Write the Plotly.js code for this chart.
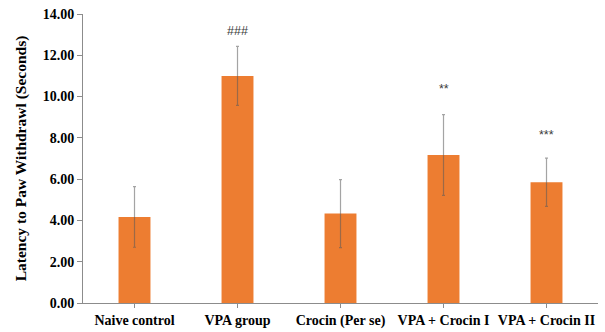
<!DOCTYPE html>
<html><head><meta charset="utf-8">
<script src="https://cdn.plot.ly/plotly-3.0.1.min.js"></script>
<style>body{margin:0;}#chart{width:605px;height:332px;}</style>
</head><body><div id="chart"></div>
<script>
var categories = ["Naive control", "VPA group", "Crocin (Per se)", "VPA + Crocin I", "VPA + Crocin II"];
var latency = [4.17, 11.0, 4.33, 7.17, 5.85];
var errors = [1.47, 1.43, 1.65, 1.96, 1.17];
var marks = ["", "###", "", "**", "***"];
var markY = [null, 13.2, null, 10.35, 8.15];
var yTicks = [0, 2, 4, 6, 8, 10, 12, 14];

var annotations = [];
for (var i = 0; i < categories.length; i++) {
  if (marks[i]) {
    annotations.push({x: categories[i], y: markY[i], text: marks[i], showarrow: false,
      font: {family: "Liberation Sans, Arial", size: 12.5, color: "#3a3a3a"}});
  }
}

var trace = {
  type: "bar", x: categories, y: latency, width: 0.31,
  marker: {color: "#ED7D31"},
  error_y: {type: "data", array: errors, visible: true, color: "rgba(90,90,90,0.55)", thickness: 1.2, width: 1.5}
};

var layout = {
  width: 605, height: 332,
  margin: {l: 83, r: 7, t: 14, b: 29},
  paper_bgcolor: "#fff", plot_bgcolor: "#fff",
  showlegend: false,
  font: {family: "Liberation Serif, Times New Roman, serif", color: "#000"},
  xaxis: {
    showline: true, linecolor: "#8c8c8c", linewidth: 1,
    ticks: "outside", ticklen: 4, tickcolor: "#8c8c8c",
    tickfont: {family: "Liberation Serif, Times New Roman, serif", size: 14, weight: "bold"},
    showgrid: false, zeroline: false
  },
  yaxis: {
    range: [0, 14], tickvals: yTicks,
    ticktext: yTicks.map(function(v){ return v.toFixed(2); }),
    showline: true, linecolor: "#8c8c8c", linewidth: 1,
    ticks: "outside", ticklen: 5, tickcolor: "#8c8c8c",
    tickfont: {family: "Liberation Serif, Times New Roman, serif", size: 14, weight: "bold"},
    showgrid: false, zeroline: false,
    title: {text: "Latency to Paw Withdrawl (Seconds)", standoff: 12,
      font: {family: "Liberation Serif, Times New Roman, serif", size: 15.5, weight: "bold"}}
  },
  annotations: annotations
};

Plotly.newPlot("chart", [trace], layout, {displayModeBar: false, staticPlot: true});
</script>
</body></html>
